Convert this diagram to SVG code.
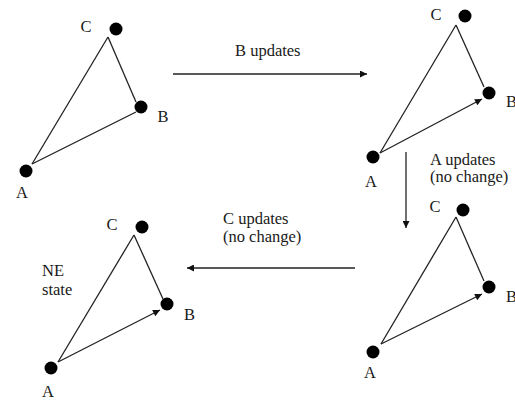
<svg xmlns="http://www.w3.org/2000/svg" width="515" height="400" viewBox="0 0 515 400">
  <style>
    text { font-family: "Times New Roman", Times, "Liberation Serif", Tinos, "Noto Serif", serif; font-size: 16.5px; fill: #1a1a1a; }
    .lbl { text-anchor: middle; }
    .edge { stroke: #222; stroke-width: 1.3; fill: none; }
    .dot { fill: #000; }
  </style>
  <defs>
    <marker id="head" viewBox="0 0 10 10" refX="10" refY="5" markerWidth="9" markerHeight="7" markerUnits="userSpaceOnUse" orient="auto">
      <path d="M0,0 L10,5 L0,10 z" fill="#111"/>
    </marker>
  </defs>

  <!-- transitions between states -->
  <g id="connectors">
    <line class="edge" x1="173" y1="74" x2="367" y2="74" marker-end="url(#head)"/>
    <line class="edge" x1="406" y1="152" x2="406" y2="228" marker-end="url(#head)"/>
    <line class="edge" x1="355" y1="268" x2="187" y2="268" marker-end="url(#head)"/>
  </g>

  <!-- transition labels -->
  <g id="label-b-updates">
    <text x="235" y="56">B updates</text>
  </g>
  <g id="label-a-updates">
    <text x="430" y="165">A updates</text>
    <text x="430" y="182">(no change)</text>
  </g>
  <g id="label-c-updates">
    <text x="223" y="224">C updates</text>
    <text x="223" y="242">(no change)</text>
  </g>

  <!-- state 1: initial -->
  <g id="state1">
    <line class="edge" x1="108" y1="37" x2="32" y2="164"/>
    <line class="edge" x1="108" y1="37" x2="136" y2="102"/>
    <line class="edge" x1="32" y1="164" x2="136" y2="112"/>
    <circle class="dot" cx="116" cy="29" r="6.5"/>
    <circle class="dot" cx="141" cy="107" r="6.5"/>
    <circle class="dot" cx="26" cy="171" r="6.5"/>
    <text class="lbl" x="86" y="32">C</text>
    <text class="lbl" x="163" y="122">B</text>
    <text class="lbl" x="22" y="198">A</text>
  </g>

  <!-- state 2: after B updates -->
  <g id="state2">
    <line class="edge" x1="456" y1="25" x2="380" y2="153"/>
    <line class="edge" x1="456" y1="25" x2="484" y2="87"/>
    <line class="edge" x1="380" y1="153" x2="482" y2="99" marker-end="url(#head)"/>
    <circle class="dot" cx="465" cy="16" r="6.5"/>
    <circle class="dot" cx="489" cy="93" r="6.5"/>
    <circle class="dot" cx="373" cy="157" r="6.5"/>
    <text class="lbl" x="436" y="20">C</text>
    <text x="506" y="107">B</text>
    <text class="lbl" x="371" y="187">A</text>
  </g>

  <!-- state 3: after A updates -->
  <g id="state3">
    <line class="edge" x1="456" y1="217" x2="381" y2="344"/>
    <line class="edge" x1="456" y1="217" x2="484" y2="281"/>
    <line class="edge" x1="381" y1="344" x2="482" y2="294" marker-end="url(#head)"/>
    <circle class="dot" cx="463" cy="210" r="6.5"/>
    <circle class="dot" cx="489" cy="287" r="6.5"/>
    <circle class="dot" cx="373" cy="352" r="6.5"/>
    <text class="lbl" x="435" y="212">C</text>
    <text x="506" y="302">B</text>
    <text class="lbl" x="370" y="378">A</text>
  </g>

  <!-- state 4: Nash equilibrium -->
  <g id="state4">
    <line class="edge" x1="134" y1="235" x2="58" y2="362"/>
    <line class="edge" x1="134" y1="235" x2="163" y2="299"/>
    <line class="edge" x1="58" y1="362" x2="160" y2="310" marker-end="url(#head)"/>
    <circle class="dot" cx="142" cy="227" r="6.5"/>
    <circle class="dot" cx="167" cy="304" r="6.5"/>
    <circle class="dot" cx="51" cy="368" r="6.5"/>
    <text class="lbl" x="112" y="230">C</text>
    <text class="lbl" x="189.5" y="320">B</text>
    <text class="lbl" x="48" y="397">A</text>
    <text x="42" y="276">NE</text>
    <text x="42" y="295">state</text>
  </g>
</svg>
